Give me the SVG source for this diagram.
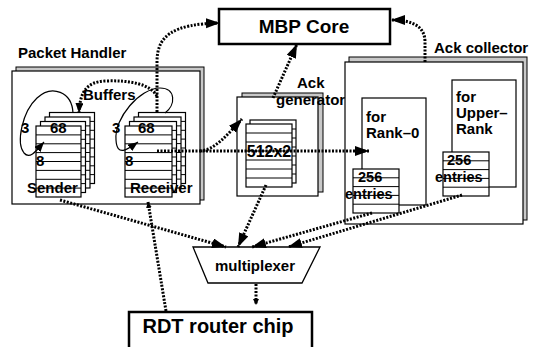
<svg xmlns="http://www.w3.org/2000/svg" width="533" height="347" viewBox="0 0 533 347">
<style>
text{font-family:"Liberation Sans",Arial,sans-serif;font-weight:bold;fill:#000}
.t15{font-size:15px}
.t14{font-size:14.5px}
.box{fill:#fff;stroke:#000;stroke-width:1.2}
.shadow{fill:#c8c8c8;stroke:#000;stroke-width:1}
.thick{fill:#fff;stroke:#000;stroke-width:2.5}
.row{stroke:#000;stroke-width:1;fill:none}
.dot{fill:none;stroke:#000;stroke-width:3;stroke-dasharray:2 1.5}
.loop{fill:none;stroke:#000;stroke-width:1.2}
</style>
<defs>
<marker id="ah" markerUnits="userSpaceOnUse" markerWidth="16" markerHeight="12" refX="14" refY="5" orient="auto">
<path d="M0,0 L14,5 L0,10 Z" fill="#000"/>
</marker>
<marker id="as" markerUnits="userSpaceOnUse" markerWidth="12" markerHeight="10" refX="10" refY="4" orient="auto">
<path d="M0,0 L10,4 L0,8 Z" fill="#000"/>
</marker>
<marker id="at" markerUnits="userSpaceOnUse" markerWidth="8" markerHeight="8" refX="6" refY="3" orient="auto">
<path d="M0,0 L6,3 L0,6 Z" fill="#000"/>
</marker>
<g id="stackS">
<rect class="box" x="0" y="0" width="45" height="71"/>
<path class="row" d="M0,8.9H45M0,17.8H45M0,26.6H45M0,35.5H45M0,44.4H45M0,53.3H45M0,62.1H45"/>
</g>
<g id="stackR">
<rect class="box" x="0" y="0" width="47" height="71"/>
<path class="row" d="M0,8.9H47M0,17.8H47M0,26.6H47M0,35.5H47M0,44.4H47M0,53.3H47M0,62.1H47"/>
</g>
<g id="buf512">
<rect class="box" x="0" y="0" width="46" height="63"/>
<path class="row" d="M0,9H46M0,18H46M0,27H46M0,36H46M0,45H46M0,54H46"/>
</g>
<g id="tbl">
<rect class="box" x="0" y="0" width="46" height="44"/>
<path class="row" d="M0,8.8H46M0,17.6H46M0,26.4H46M0,35.2H46"/>
</g>
</defs>

<g id="mbp-core">
<rect class="thick" x="219" y="9" width="171" height="35"/>
<text x="304" y="33" font-size="19" text-anchor="middle">MBP Core</text>
</g>

<g id="packet-handler">
<text class="t15" x="18" y="58">Packet Handler</text>
<rect class="shadow" x="16" y="67" width="188" height="133"/>
<rect class="box" x="12" y="71" width="188" height="133"/>
<g id="sender-buffers">
<use href="#stackS" x="49.5" y="112.5"/>
<use href="#stackS" x="45" y="117"/>
<use href="#stackS" x="40.5" y="121.5"/>
<use href="#stackS" x="36" y="126"/>
<path class="loop" d="M73,113 C72,92 52,84 37,98 C22,112 16,143 24,153 C30,160 37,150 44,142" marker-end="url(#as)"/>
<text class="t15" x="50" y="133">68</text>
<text class="t15" x="21" y="133">3</text>
<text class="t15" x="36" y="166">8</text>
<text class="t15" x="27" y="193">Sender</text>
</g>
<g id="receiver-buffers">
<use href="#stackR" x="138.5" y="112.5"/>
<use href="#stackR" x="134" y="117"/>
<use href="#stackR" x="129.5" y="121.5"/>
<use href="#stackR" x="125" y="126"/>
<path class="loop" d="M165,113 C176,105 176,88 160,88 C140,88 114,118 116,140 C117,157 127,150 138,142" marker-end="url(#as)"/>
<text class="t15" x="138" y="133">68</text>
<text class="t15" x="112" y="133">3</text>
<text class="t15" x="125" y="166">8</text>
<text class="t15" x="130" y="193">Receiver</text>
</g>
<text class="t15" x="83" y="100">Buffers</text>
</g>

<g id="ack-generator">
<rect class="shadow" x="242" y="93" width="81" height="99"/>
<rect class="box" x="237" y="97" width="81" height="99"/>
<use href="#buf512" x="250" y="120"/>
<use href="#buf512" x="246" y="124"/>
<text x="269" y="157" font-size="16" text-anchor="middle">512x2</text>
<text class="t15" x="297" y="88">Ack</text>
<text class="t15" x="276" y="105">generator</text>
</g>

<g id="ack-collector">
<text class="t15" x="434" y="53">Ack collector</text>
<rect class="shadow" x="349" y="57" width="178" height="163"/>
<rect class="box" x="345" y="62" width="178" height="162"/>
<g id="rank0">
<rect class="box" x="362" y="98" width="64" height="107"/>
<text class="t15" x="366" y="122">for</text>
<text class="t15" x="366" y="138">Rank–0</text>
<use href="#tbl" x="353" y="169"/>
<text class="t14" x="358" y="182">256</text>
<text class="t14" x="345" y="199">entries</text>
</g>
<g id="upper-rank">
<rect class="box" x="452" y="80" width="64" height="107"/>
<text class="t15" x="456" y="102">for</text>
<text class="t15" x="456" y="118">Upper–</text>
<text class="t15" x="456" y="134">Rank</text>
<use href="#tbl" x="443" y="152"/>
<text class="t14" x="447" y="165">256</text>
<text class="t14" x="435" y="182">entries</text>
</g>
</g>

<g id="multiplexer">
<polygon points="193,247 320,247 302,283 208,283" fill="#fff" stroke="#000" stroke-width="1.3"/>
<text class="t15" x="255" y="271" text-anchor="middle">multiplexer</text>
</g>

<g id="rdt-router-chip">
<rect class="thick" x="129" y="312" width="183" height="40"/>
<text x="218" y="333" font-size="20" text-anchor="middle">RDT router chip</text>
</g>

<g id="connectors">
<path class="dot" d="M157,112 L157,62 C157,36 172,24 220,23" marker-end="url(#ah)"/>
<path class="dot" d="M157,96 C150,84 130,80 105,81 C88,82 80,90 79,113" marker-end="url(#as)"/>
<path class="dot" d="M157,151 L369,151" marker-end="url(#ah)"/>
<path class="dot" d="M200,151 C215,150 228,134 242,119" marker-end="url(#ah)"/>
<path class="dot" d="M273,98 L297,44" marker-end="url(#ah)"/>
<path class="dot" d="M425,62 L425,42 C425,28 415,20 391,20" marker-end="url(#ah)"/>
<path class="dot" d="M60,200 L226,247" marker-end="url(#ah)"/>
<path class="dot" d="M166,311 L148,202" marker-end="url(#at)"/>
<path class="dot" d="M266,185 L238,247" marker-end="url(#ah)"/>
<path class="dot" d="M372,213 L252,247" marker-end="url(#ah)"/>
<path class="dot" d="M462,195 L288,247" marker-end="url(#ah)"/>
<path class="dot" d="M256,284 L256,305" marker-end="url(#at)"/>
</g>
</svg>
